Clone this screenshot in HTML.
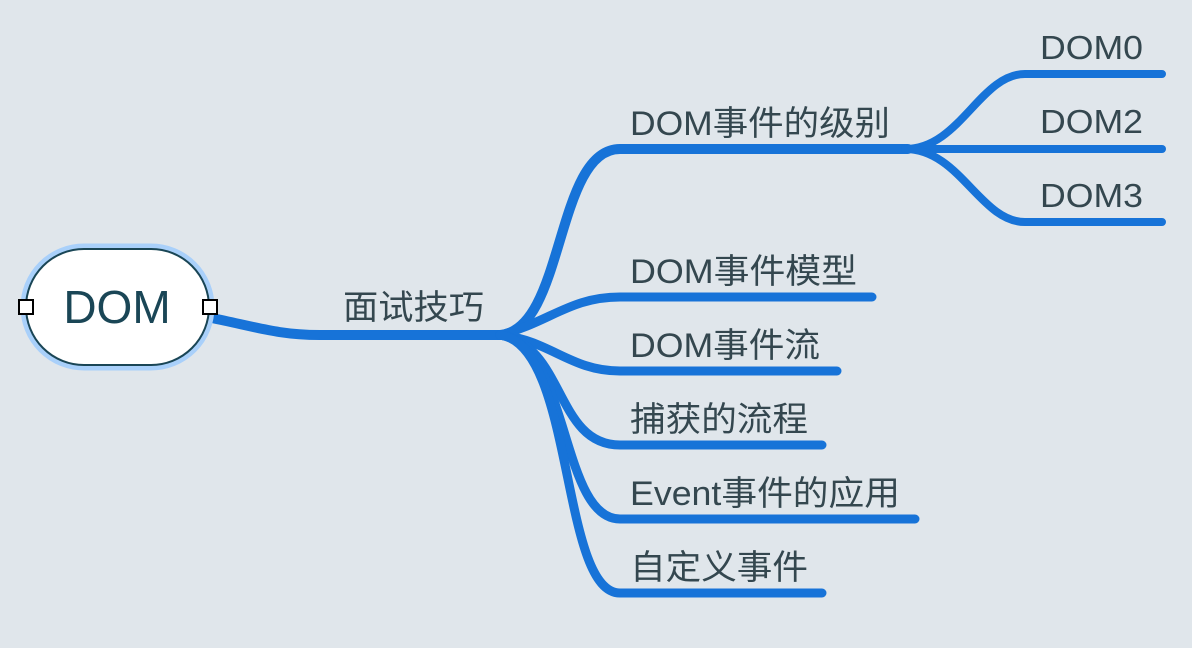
<!DOCTYPE html>
<html><head><meta charset="utf-8"><style>
html,body{margin:0;padding:0;background:#e0e6eb;}
svg{display:block}
text{font-family:"Liberation Sans","Noto Sans CJK SC",sans-serif;fill:#34474f;}
</style></head><body>
<svg width="1192" height="648" viewBox="0 0 1192 648">
<g fill="none" stroke="#1773d8" stroke-linecap="round">
<path d="M212,318 C260,328 280,335 320,335 L505,335" stroke-width="10"/>
<path d="M500,335 C565,330 555,149 620,149 L908,149" stroke-width="10"/>
<path d="M500,335 C550,322 570,297 620,297 L872,297" stroke-width="9"/>
<path d="M500,335 C550,340 570,371 620,371 L837,371" stroke-width="9"/>
<path d="M500,335 C565,345 555,445 620,445 L822,445" stroke-width="9"/>
<path d="M500,335 C570,345 560,519 620,519 L915,519" stroke-width="9"/>
<path d="M500,335 C575,345 560,593 620,593 L822,593" stroke-width="9"/>
<path d="M905,149 C960,149 980,74 1025,74 L1162,74" stroke-width="8"/>
<path d="M905,149 L1162,149" stroke-width="8"/>
<path d="M905,149 C960,149 980,222 1025,222 L1162,222" stroke-width="8"/>
</g>
<rect x="23" y="246" width="189" height="122" rx="61" fill="none" stroke="#a9d0fa" stroke-width="5"/>
<rect x="26" y="249" width="183" height="116" rx="58" fill="#fff" stroke="#1a4656" stroke-width="2"/>
<text x="117" y="323" font-size="46" text-anchor="middle" style="fill:#1a4656">DOM</text>
<rect x="19" y="300" width="14" height="14" fill="#fff" stroke="#000" stroke-width="2"/>
<rect x="203" y="300" width="14" height="14" fill="#fff" stroke="#000" stroke-width="2"/>
<g font-size="34" lengthAdjust="spacingAndGlyphs">
<text x="343" y="319" textLength="141" lengthAdjust="spacingAndGlyphs">面试技巧</text>
<text x="630" y="135" textLength="260" lengthAdjust="spacingAndGlyphs">DOM事件的级别</text>
<text x="630" y="283" textLength="227" lengthAdjust="spacingAndGlyphs">DOM事件模型</text>
<text x="630" y="357" textLength="190" lengthAdjust="spacingAndGlyphs">DOM事件流</text>
<text x="630" y="431" textLength="178" lengthAdjust="spacingAndGlyphs">捕获的流程</text>
<text x="630" y="505" textLength="270" lengthAdjust="spacingAndGlyphs">Event事件的应用</text>
<text x="630" y="579" textLength="178" lengthAdjust="spacingAndGlyphs">自定义事件</text>
</g>
<g font-size="33">
<text x="1040" y="59" textLength="103" lengthAdjust="spacingAndGlyphs">DOM0</text>
<text x="1040" y="133" textLength="103" lengthAdjust="spacingAndGlyphs">DOM2</text>
<text x="1040" y="207" textLength="103" lengthAdjust="spacingAndGlyphs">DOM3</text>
</g>
</svg>
</body></html>
